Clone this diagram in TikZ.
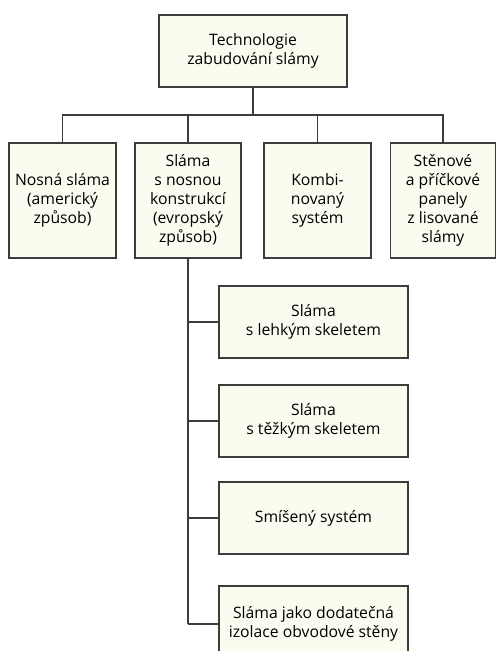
\documentclass[tikz,border=0pt]{standalone}
\usepackage{fontspec}
\setmainfont{Open Sans}
\definecolor{boxfill}{RGB}{252,251,240}
\definecolor{linegray}{RGB}{60,60,60}
\begin{document}
\begin{tikzpicture}[x=0.75pt,y=-0.75pt,
  box/.style={draw=linegray,line width=0.9pt,fill=boxfill,align=center,
    inner sep=0pt,font=\fontsize{11.8}{14.2}\selectfont},
  link/.style={draw=linegray,line width=0.9pt}]
\useasboundingbox (0,0) rectangle (496,651);
\clip (0,0) rectangle (496,651);
% top
\node[box,minimum width=188*0.75pt,minimum height=72*0.75pt] (top) at (253,51) {Technologie\\zabudování slámy};
% first row
\node[box,minimum width=107*0.75pt,minimum height=115*0.75pt] (nosna) at (62.5,200.5) {Nosná sláma\\(americký\\způsob)};
\node[box,minimum width=106*0.75pt,minimum height=115*0.75pt] (evrop) at (188,200.5) {Sláma\\s nosnou\\konstrukcí\\(evropský\\způsob)};
\node[box,minimum width=107*0.75pt,minimum height=115*0.75pt] (kombi) at (317.5,200.5) {Kombi-\\novaný\\systém};
\node[box,minimum width=105*0.75pt,minimum height=115*0.75pt] (panely) at (443,200.5) {Stěnové\\a příčkové\\panely\\z lisované\\slámy};
% second column
\node[box,minimum width=189*0.75pt,minimum height=72*0.75pt] (lehky) at (313.5,322) {Sláma\\s lehkým skeletem};
\node[box,minimum width=189*0.75pt,minimum height=72*0.75pt] (tezky) at (313.5,421) {Sláma\\s těžkým skeletem};
\node[box,minimum width=189*0.75pt,minimum height=72*0.75pt] (smiseny) at (313.5,518) {Smíšený systém};
\node[box,minimum width=189*0.75pt,minimum height=72*0.75pt,text depth=0pt] (izolace) at (313.5,622) {Sláma jako dodatečná\\izolace obvodové stěny};
% connectors
\coordinate (bar) at (253,115);
\draw[link] (top.south) -- (bar);
\foreach \n in {nosna,evrop,kombi,panely}
  \draw[link] (bar) -| (\n.north);
\coordinate (trunk) at (188,624);
\draw[link] (evrop.south) -- (trunk);
\foreach \n in {lehky,tezky,smiseny}
  \draw[link] (\n.west) -- (\n.west -| trunk);
\draw[link] (trunk) -- (izolace.west |- trunk);
\end{tikzpicture}
\end{document}
